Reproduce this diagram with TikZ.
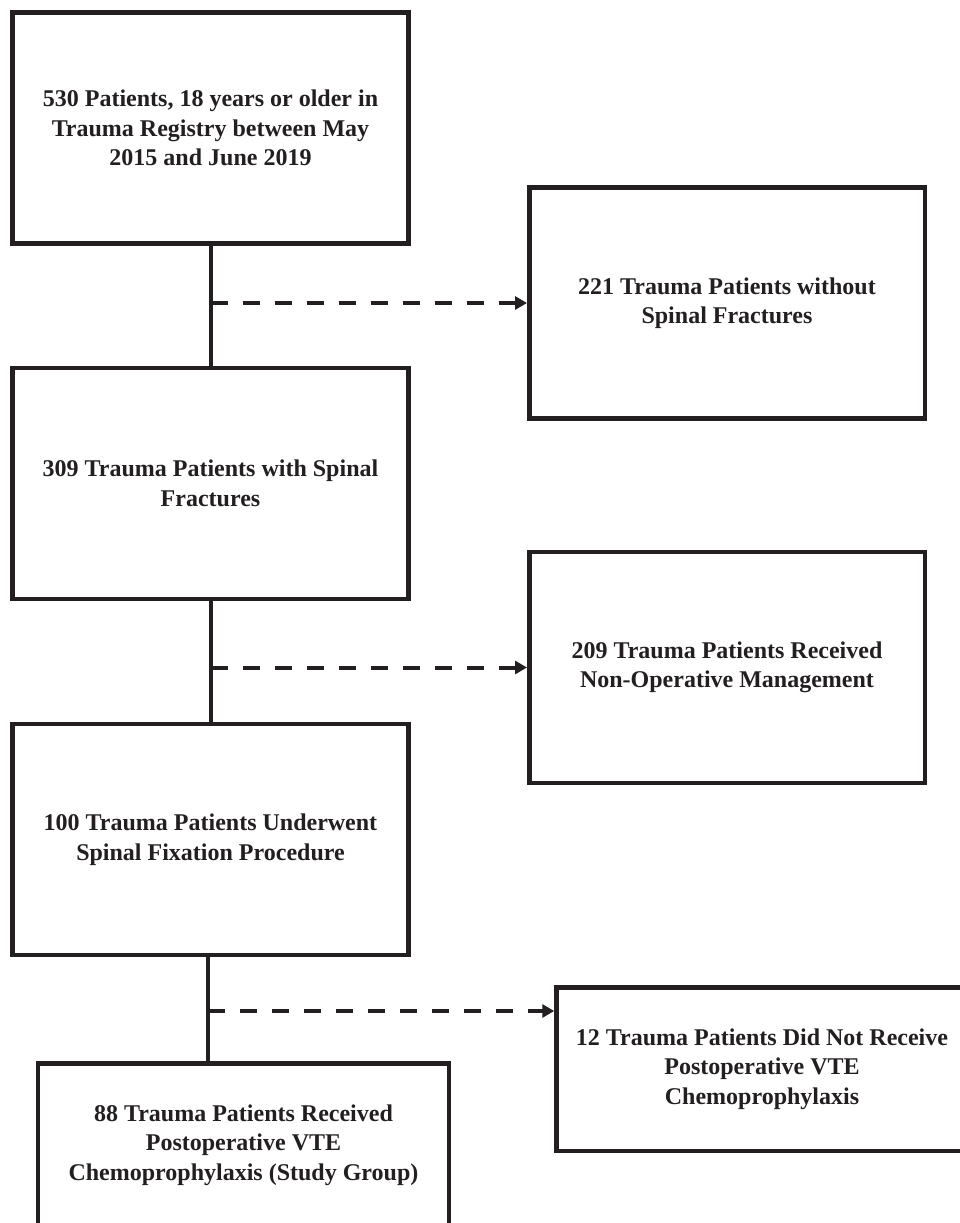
\documentclass[tikz,border=0pt]{standalone}
\usepackage{fontspec}
\setmainfont{Liberation Serif}
\usetikzlibrary{arrows.meta}
\definecolor{ink}{HTML}{231F20}

\begin{document}
\begin{tikzpicture}[x=1pt, y=-1pt,
	stagebox/.style={draw=ink, line width=4.5pt, minimum width=396pt, minimum height=231pt, inner sep=0pt, align=center, text=ink, font=\fontsize{24}{29.5}\selectfont\bfseries},
	endbox/.style={stagebox, minimum width=411pt, minimum height=163.5pt},
	flowline/.style={draw=ink, line width=4pt},
	exitarrow/.style={draw=ink, line width=4pt, dash pattern=on 17pt off 15pt, -{Triangle[length=12pt, width=13pt]}}]
	\useasboundingbox (0, 0) rectangle (960, 1223);
	%left column
	\node[stagebox] (reg) at (210.5, 128) {530 Patients, 18 years or older in\\Trauma Registry between May\\2015 and June 2019};
	\node[stagebox] (spine) at (210.5, 483.5) {309 Trauma Patients with Spinal\\Fractures};
	\node[stagebox] (fix) at (210.5, 839.5) {100 Trauma Patients Underwent\\Spinal Fixation Procedure};
	\node[endbox] (study) at (243.5, 1145) {88 Trauma Patients Received\\Postoperative VTE\\Chemoprophylaxis (Study Group)};
	%right column
	\node[stagebox, minimum width=395.5pt] (nospine) at (727, 303) {221 Trauma Patients without\\Spinal Fractures};
	\node[stagebox, minimum width=395.5pt] (nonop) at (727, 667.5) {209 Trauma Patients Received\\Non-Operative Management};
	\node[endbox] (novte) at (762, 1069) {12 Trauma Patients Did Not Receive\\Postoperative VTE\\Chemoprophylaxis};
	%branch points
	\coordinate (j1) at (reg.south |- nospine.west);
	\coordinate (j2) at (spine.south |- nonop.west);
	\coordinate (j3) at (208, 1011);
	%main flow
	\draw[flowline] (reg.south) -- (spine.north);
	\draw[flowline] (spine.south) -- (fix.north);
	\draw[flowline] (fix.south -| j3) -- (j3 |- study.north);
	%exclusions
	\draw[exitarrow] (j1) -- (nospine.west);
	\draw[exitarrow] (j2) -- (nonop.west);
	\draw[exitarrow] (j3) -- (j3 -| novte.west);
\end{tikzpicture}
\end{document}
